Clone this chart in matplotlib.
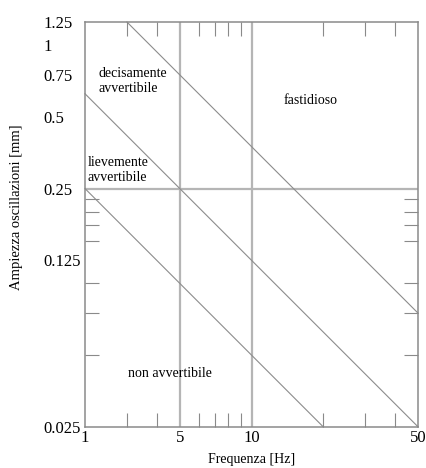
import matplotlib
matplotlib.use("Agg")
import matplotlib.pyplot as plt
from matplotlib.ticker import FixedLocator, FixedFormatter, NullFormatter

plt.rcParams["font.family"] = ["Liberation Serif", "DejaVu Serif"]

# asse x: il bordo sinistro e' etichettato "1" nel disegno originale
freq_ticks = [2, 5, 10, 50]
freq_labels = ["1", "5", "10", "50"]
freq_minor = [3, 4, 6, 7, 8, 9, 20, 30, 40]

amp_ticks = [1.25, 1, 0.75, 0.5, 0.25, 0.125, 0.025]
amp_labels = ["1.25", "1", "0.75", "0.5", "0.25", "0.125", "0.025"]
amp_minor = [1, 0.75, 0.5, 0.225, 0.2, 0.175, 0.15, 0.1, 0.075, 0.05]

# soglie diagonali (estremi dei segmenti)
fastidioso_f = [3, 50]
fastidioso_a = [1.25, 0.075]
decisamente_f = [2, 50]
decisamente_a = [0.625, 0.025]
lievemente_f = [2, 20]
lievemente_a = [0.25, 0.025]

grid_f = [5, 10]
grid_a = [0.25]

fig = plt.figure(figsize=(4.27, 4.68), dpi=100)
ax = fig.add_axes([0.199, 0.088, 0.78, 0.865])
ax.set_xscale("log")
ax.set_yscale("log")
ax.set_xlim(2, 50)
ax.set_ylim(0.025, 1.25)

for f in grid_f:
    ax.axvline(f, color="#b5b5b5", lw=1.6, zorder=1)
for a in grid_a:
    ax.axhline(a, color="#b5b5b5", lw=1.6, zorder=1)

for fx, ay in [(fastidioso_f, fastidioso_a), (decisamente_f, decisamente_a),
               (lievemente_f, lievemente_a)]:
    ax.plot(fx, ay, color="#8c8c8c", lw=0.8, zorder=2, clip_on=False)

ax.xaxis.set_major_locator(FixedLocator(freq_ticks))
ax.xaxis.set_major_formatter(FixedFormatter(freq_labels))
ax.xaxis.set_minor_locator(FixedLocator(freq_minor))
ax.xaxis.set_minor_formatter(NullFormatter())
ax.yaxis.set_major_locator(FixedLocator(amp_ticks))
ax.yaxis.set_major_formatter(FixedFormatter(amp_labels))
ax.yaxis.set_minor_locator(FixedLocator(amp_minor))
ax.yaxis.set_minor_formatter(NullFormatter())

ax.tick_params(which="major", length=0, labelsize=12)
ax.tick_params(axis="x", which="major", pad=2)
ax.tick_params(axis="y", which="major", pad=30)
ax.tick_params(which="minor", direction="in", length=10, width=0.8,
               color="#8a8a8a", top=True, right=True)
for lab in ax.get_yticklabels():
    lab.set_horizontalalignment("left")

for sp in ax.spines.values():
    sp.set_color("#8a8a8a")
    sp.set_linewidth(1.1)

ax.set_xlabel("Frequenza [Hz]", fontsize=10, labelpad=5)
ax.set_ylabel("Ampiezza oscillazioni [mm]", fontsize=10.5)
ax.yaxis.set_label_coords(-0.186, 0.543)

ax.text(2.29, 0.71, "decisamente\navvertibile", fontsize=10, va="center",
        ha="left", linespacing=1.2)
ax.text(2.05, 0.30, "lievemente\navvertibile", fontsize=10, va="center",
        ha="left", linespacing=1.2)
ax.text(13.7, 0.587, "fastidioso", fontsize=10, va="center", ha="left")
ax.text(3.03, 0.0418, "non avvertibile", fontsize=10, va="center", ha="left")

fig.savefig("out.png", dpi=100)
